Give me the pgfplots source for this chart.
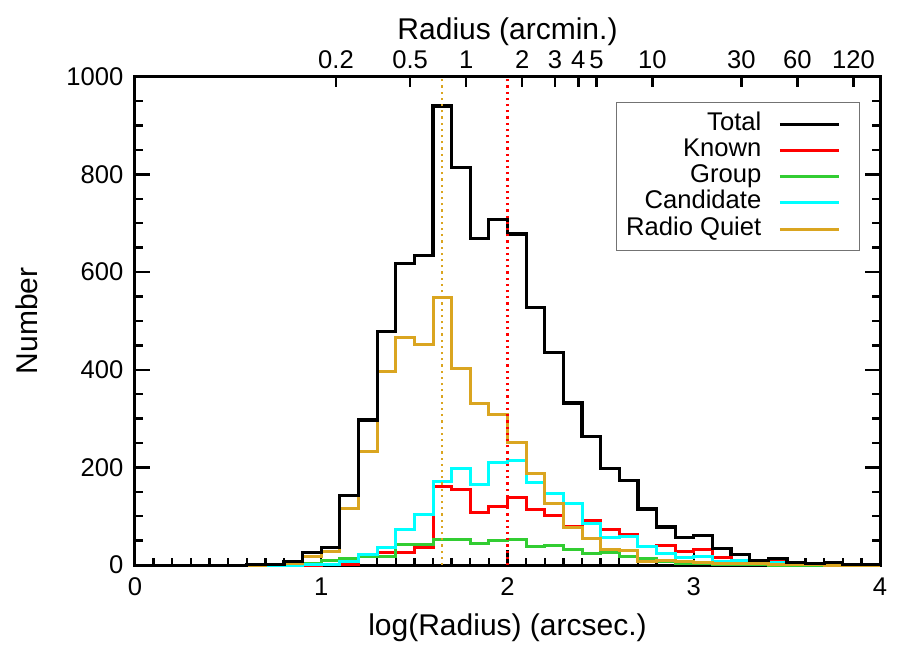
\documentclass[border=0pt]{standalone}
\usepackage{fontspec}
\setmainfont{Liberation Sans}
\usepackage{pgfplots}
\usepackage{pgfplotstable}
\pgfplotsset{compat=1.18}
\definecolor{hgreen}{HTML}{32CD32}
\definecolor{hgold}{HTML}{DAA520}
\definecolor{hcyan}{HTML}{00FFFF}
\newcommand\fs{\fontsize{12.8}{15}\selectfont}
\newcommand\fl{\fontsize{15}{18}\selectfont}

% left bin edge, counts per 0.1 dex bin
\pgfplotstableread{
x    tot  kn   gr   ca   rq
0.5  0    0    0    0    0
0.6  1    0    0    0    0
0.7  2    0    0    0    1
0.8  7    0    2    0    3
0.9  26   0    4    1    18
1.0  36   1    9    2    28
1.1  143  2    14   7    116
1.2  297  17   17   22   233
1.3  478  26   17   36   396
1.4  618  26   42   73   467
1.5  634  36   42   104  452
1.6  940  160  53   172  548
1.7  814  154  53   198  403
1.8  669  107  44   166  331
1.9  708  121  51   211  309
2.0  678  139  53   215  252
2.1  528  114  38   169  188
2.2  435  102  40   147  127
2.3  332  80   31   127  77
2.4  264  91   24   85   55
2.5  198  72   26   56   32
2.6  174  63   18   58   29
2.7  115  38   14   38   8
2.8  78   41   8    24   9
2.9  57   27   4    16   7
3.0  61   32   3    18   6
3.1  34   16   2    8    4
3.2  22   7    1    10   3
3.3  9    2    0.5  3    3
3.4  14   10   0    6    2
3.5  6    3    0    1.5  1
3.6  3    2    0    1    1
3.7  6    5    0    0.5  0
3.8  1.5  1.5  0    0    0
3.9  2    2    0    0    0
4.0  2    2    0    0    0
}\hist

\begin{document}
\begin{tikzpicture}
\pgfplotsset{
  frame/.style={
    scale only axis, width=372.5pt, height=244.2pt,
    xmin=0, xmax=4, ymin=0, ymax=1000,
    axis line style={black, line width=1.5pt},
    every tick/.style={black, line width=1.2pt},
    tick align=inside,
    tick label style={font=\fs},
    label style={font=\fl},
    /pgf/number format/assume math mode=true,
    /pgf/number format/1000 sep={},
  }
}
\begin{axis}[frame,
  xtick={0,1,2,3,4}, ytick={0,200,...,1000},
  minor x tick num=9, minor y tick num=3,
  xtick pos=bottom, ytick pos=both,
  major tick length=7.5pt, minor tick length=3.8pt,
  yticklabel style={xshift=-2.3pt},
  xticklabel style={yshift=-2.8pt},
  xlabel={log(Radius) (arcsec.)},
  ylabel={Number},
  xlabel style={at={(axis description cs:0.5,-0.129)}, anchor=center},
  ylabel style={at={(axis description cs:-0.145,0.5)}, anchor=center, rotate=0},
  clip=false,
  legend plot pos=right,
  legend cell align=right,
  legend image code/.code={\draw[#1] (0pt,0pt) -- (29.5pt,0pt); \path (34pt,0pt);},
  legend style={at={(rel axis cs:0.973,0.948)}, anchor=north east,
    draw=black!55, line width=0.6pt, font=\fs, fill=white,
    inner xsep=5pt, inner ysep=4.8pt, column sep=8.5pt, row sep=1.1pt,
    nodes={inner sep=0pt, text height=9pt, text depth=3pt}},
]
\path (rel axis cs:-0.1812,-0.1597) rectangle (rel axis cs:1.0268,1.157);
\addplot[const plot, red, line width=1.5pt, forget plot] table[x=x, y=kn] {\hist};
\addplot[const plot, hgreen, line width=1.5pt, forget plot] table[x=x, y=gr] {\hist};
\addplot[const plot, hcyan, line width=1.5pt, forget plot] table[x=x, y=ca] {\hist};
\addplot[const plot, hgold, line width=1.5pt, forget plot] table[x=x, y=rq] {\hist};
\addplot[const plot, black, line width=1.6pt, forget plot] table[x=x, y=tot] {\hist};
\addplot[hgold, line width=1.1pt, dash pattern=on 1.1pt off 2pt, forget plot]
  coordinates {(1.65,0) (1.65,1000)};
\addplot[red, line width=1.1pt, dash pattern=on 1.1pt off 2pt, forget plot]
  coordinates {(2.0,0) (2.0,1000)};
\addlegendimage{black, line width=1.5pt}
\addlegendentry{Total}
\addlegendimage{red, line width=1.5pt}
\addlegendentry{Known}
\addlegendimage{hgreen, line width=1.5pt}
\addlegendentry{Group}
\addlegendimage{hcyan, line width=1.5pt}
\addlegendentry{Candidate}
\addlegendimage{hgold, line width=1.5pt}
\addlegendentry{Radio Quiet}
\end{axis}
\begin{axis}[frame,
  axis x line*=top, axis y line=none,
  xtick={1.07918,1.47712,1.77815,2.07918,2.25527,2.38021,2.47712,2.77815,3.25527,3.55630,3.85733},
  xticklabels={0.2,0.5,1,2,3,4,5,10,30,60,120},
  major tick length=5pt,
  xticklabel style={yshift=0.5pt},
  xlabel={Radius (arcmin.)},
  xlabel style={at={(axis description cs:0.5,1.092)}, anchor=center},
]
\end{axis}
\end{tikzpicture}
\end{document}
